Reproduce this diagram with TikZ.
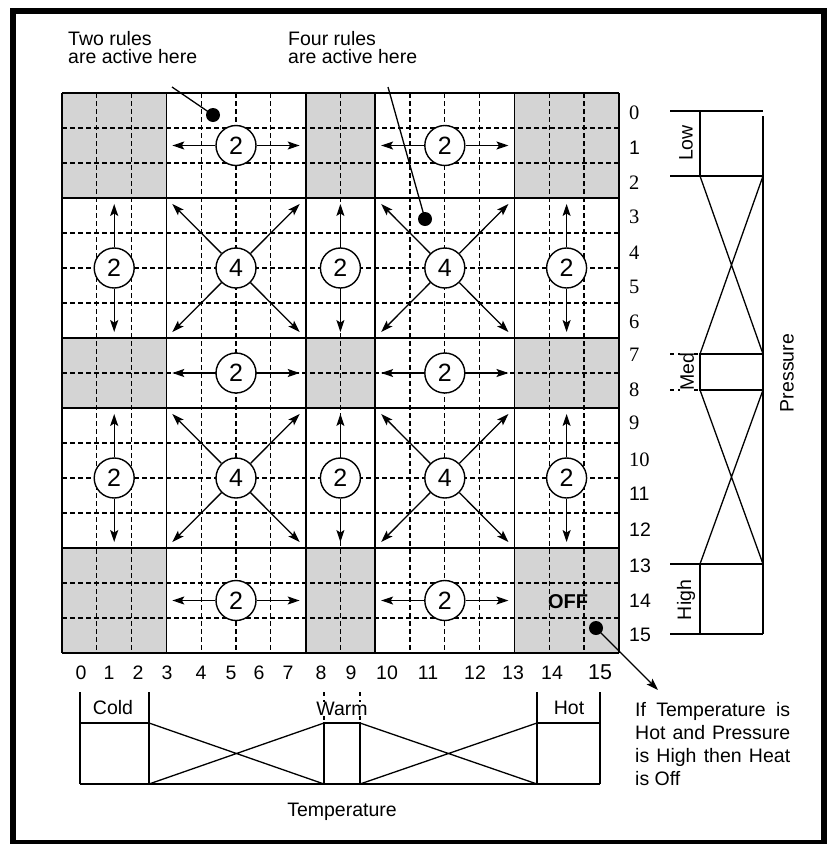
\documentclass[tikz,border=0pt]{standalone}
\usepackage{fontspec}
\setmainfont{Liberation Sans}
\newfontfamily\numserif{Liberation Serif}
\usetikzlibrary{arrows.meta}
\tikzset{
  cell-line/.style={line width=1.8pt},
  unit-line/.style={line width=1.3pt,dash pattern=on 4.5pt off 3.5pt},
  cell-shade/.style={fill=black!17},
  rule-circle/.style={draw,circle,line width=1.4pt,fill=white,minimum size=40pt,
    inner sep=0pt,font=\fontsize{25}{25}\selectfont},
  rule-arrow/.style={-{Stealth[length=12pt,width=8pt,inset=2.5pt]},line width=1.3pt},
  leader/.style={line width=1.3pt},
  hot-dot/.style={circle,fill,inner sep=0pt,minimum size=14pt},
  mf-thick/.style={line width=2.4pt},
  mf-thin/.style={line width=1.3pt},
  lbl/.style={font=\fontsize{19.5}{19.5}\selectfont,inner sep=0pt},
  note/.style={font=\fontsize{19.5}{18.5}\selectfont,inner sep=0pt,align=left,anchor=north west},
}

\begin{document}
\begin{tikzpicture}[x=1pt,y=-1pt]
  \useasboundingbox (0,0) rectangle (828,844);
  \draw[line width=6pt] (13,11) rectangle (824,843);

  % rule grid, one unit per temperature/pressure step
  \begin{scope}[shift={(62,93)},x=34.8pt,y=-35pt]
    \foreach \a/\b in {0/3,7/9,13/16}
      \foreach \c/\d in {0/3,7/9,13/16}
        \fill[cell-shade] (\a,\c) rectangle (\b,\d);
    \foreach \u in {1,2,4,5,6,8,10,11,12,14,15} {
      \draw[unit-line] (\u,0) -- (\u,16);
      \draw[unit-line] (0,\u) -- (16,\u);
    }
    \foreach \u in {0,3,7,9,13,16} {
      \draw[cell-line] (\u,0) -- (\u,16);
      \draw[cell-line] (0,\u) -- (16,\u);
    }
    % two rules, temperature spread
    \foreach \cx/\i in {5/a,11/b}
      \foreach \cy/\j in {1.5/a,8/b,14.5/c} {
        \node[rule-circle] (h\i\j) at (\cx,\cy) {2};
        \coordinate (h\i\j-w) at (\cx-1.83,\cy);
        \coordinate (h\i\j-e) at (\cx+1.83,\cy);
        \draw[rule-arrow] (h\i\j) -- (h\i\j-w);
        \draw[rule-arrow] (h\i\j) -- (h\i\j-e);
      }
    % two rules, pressure spread
    \foreach \cx/\i in {1.5/a,8/b,14.5/c}
      \foreach \cy/\j in {5/a,11/b} {
        \node[rule-circle] (v\i\j) at (\cx,\cy) {2};
        \coordinate (v\i\j-n) at (\cx,\cy-1.83);
        \coordinate (v\i\j-s) at (\cx,\cy+1.83);
        \draw[rule-arrow] (v\i\j) -- (v\i\j-n);
        \draw[rule-arrow] (v\i\j) -- (v\i\j-s);
      }
    % four rules
    \foreach \cx/\i in {5/a,11/b}
      \foreach \cy/\j in {5/a,11/b} {
        \node[rule-circle] (d\i\j) at (\cx,\cy) {4};
        \coordinate (d\i\j-nw) at (\cx-1.83,\cy-1.83);
        \coordinate (d\i\j-ne) at (\cx+1.83,\cy-1.83);
        \coordinate (d\i\j-sw) at (\cx-1.83,\cy+1.83);
        \coordinate (d\i\j-se) at (\cx+1.83,\cy+1.83);
        \foreach \k in {nw,ne,sw,se}
          \draw[rule-arrow] (d\i\j) -- (d\i\j-\k);
      }
  \end{scope}

  \node[font=\bfseries\fontsize{20}{20}\selectfont,inner sep=0pt] (off) at (568,602) {OFF};

  % callouts
  \node[note] (two-note) at (68,31) {Two rules\\are active here};
  \node[note] (four-note) at (288,31) {Four rules\\are active here};
  \node[hot-dot] (two-dot) at (213,115) {};
  \node[hot-dot] (four-dot) at (425,219) {};
  \node[hot-dot] (off-dot) at (596,628) {};
  \coordinate (two-tail) at (172,87);
  \coordinate (four-tail) at (388,87);
  \coordinate (off-tip) at (658,690);
  \draw[leader] (two-tail) -- (two-dot.center);
  \draw[leader] (four-tail) -- (four-dot.center);
  \draw[rule-arrow] (off-dot.center) -- (off-tip);
  \node[font=\fontsize{19.5}{23}\selectfont,inner sep=0pt,anchor=north west,
    text width=155pt,align=justify] (off-note) at (635,702)
    {If Temperature is\linebreak Hot and Pressure\linebreak is High then Heat\linebreak is Off};

  % axis numbers
  \foreach \t/\px in {0/81,1/109,2/138,3/167,4/201,5/231,6/259,7/288,8/321,
      9/351,10/387,11/428,12/475,13/513,14/552}
    \node[lbl] (t\t) at (\px,673) {\t};
  \node[lbl,font=\fontsize{21.5}{21.5}\selectfont] (t15) at (600,672) {15};
  \foreach \p/\py in {0/113,2/183,3/217,4/253,5/287,6/322,7/355,8/390,9/423,10/460}
    \node[lbl,anchor=west,font=\numserif\fontsize{20.5}{20.5}\selectfont] (p\p) at (629,\py) {\p};
  \foreach \p/\py in {1/148,11/494,12/530,13/566,14/601,15/635}
    \node[lbl,anchor=west] (p\p) at (629,\py) {\p};

  % temperature membership
  \draw[mf-thick] (80,692) -- (80,784) (149,692) -- (149,784) (80,723) -- (149,723);
  \draw[mf-thick] (537,692) -- (537,784) (600,692) -- (600,784) (537,723) -- (600,723);
  \draw[mf-thick] (80,784) -- (600,784);
  \draw[mf-thin] (149,723) -- (324,784) (149,784) -- (324,723);
  \draw[mf-thin] (360,723) -- (537,784) (360,784) -- (537,723);
  \draw[mf-thin] (324,784) -- (324,723) -- (360,723) -- (360,784);
  \draw[mf-thin,dash pattern=on 4pt off 4pt] (324,692) -- (324,723) (360,692) -- (360,723);
  \node[lbl] (cold) at (113,708) {Cold};
  \node[lbl,fill=white] (warm) at (342,709) {Warm};
  \node[lbl] (hot) at (569,708) {Hot};
  \node[lbl] (temperature) at (342,812) {Temperature};

  % pressure membership
  \draw[mf-thick] (670,111) -- (763,111) (700,111) -- (700,176) (670,176) -- (763,176);
  \draw[mf-thick] (763,116) -- (763,634);
  \draw[mf-thick] (670,564) -- (763,564) (700,564) -- (700,634) (670,634) -- (763,634);
  \draw[mf-thin] (700,176) -- (763,354) (763,176) -- (700,354);
  \draw[mf-thin] (700,390) -- (763,564) (763,390) -- (700,564);
  \draw[mf-thin] (763,354) -- (700,354) -- (700,390) -- (763,390);
  \draw[mf-thin,dash pattern=on 4pt off 4pt] (670,354) -- (700,354) (670,390) -- (700,390);
  \node[lbl,rotate=90] (low) at (686,143) {Low};
  \node[lbl,rotate=90,fill=white] (med) at (687,372) {Med};
  \node[lbl,rotate=90] (high) at (686,600) {High};
  \node[lbl,rotate=90] (pressure) at (787,373) {Pressure};
\end{tikzpicture}
\end{document}
